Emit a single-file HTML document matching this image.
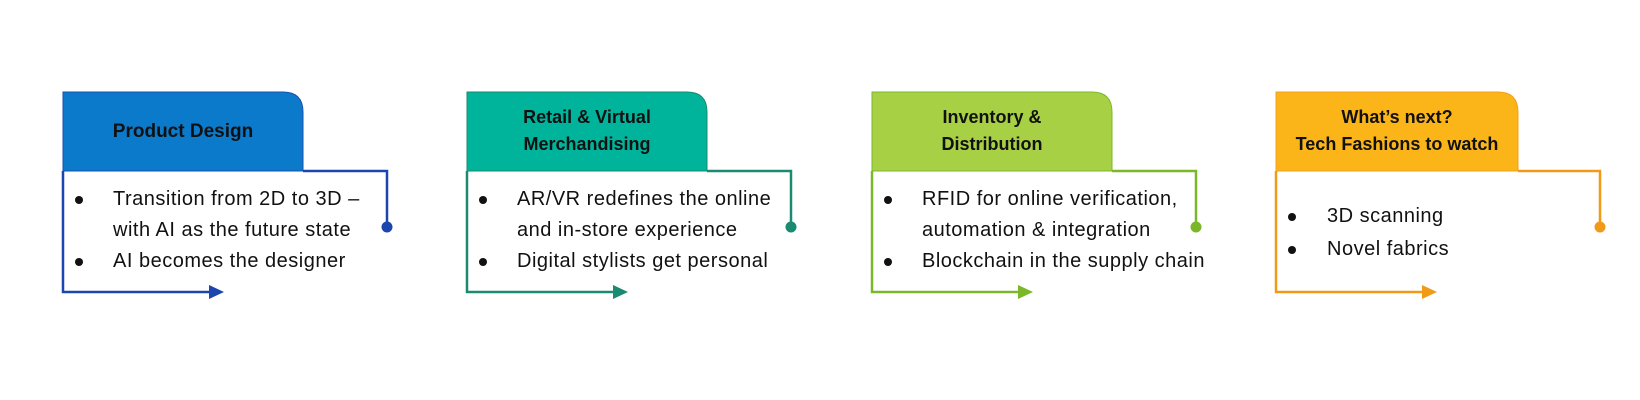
<!DOCTYPE html>
<html><head><meta charset="utf-8"><style>
body{margin:0;width:1640px;height:400px;background:#fff;overflow:hidden;font-family:"Liberation Sans",sans-serif;}
.t{position:absolute;font-size:20px;letter-spacing:0.5px;color:#111;white-space:nowrap}
.h{position:absolute;font-weight:bold;font-size:18px;color:#111;text-align:center;line-height:27px}
</style></head><body>
<svg width="1640" height="400" style="position:absolute;left:0;top:0">
<g transform="translate(63,0)">
<path d="M0 92 H220 Q240 92 240 112 V171 H0 Z" fill="#0b7acb" stroke="#1b4fae" stroke-width="1"/>
<path d="M0 171 V292 H150" fill="none" stroke="#1b46ad" stroke-width="2.5"/>
<polygon points="146,285 161,292 146,299" fill="#1b46ad"/>
<path d="M240 171 H324 V227" fill="none" stroke="#1b46ad" stroke-width="2.5"/>
<circle cx="324" cy="227" r="5.5" fill="#1b46ad"/>
</g>
<g transform="translate(467,0)">
<path d="M0 92 H220 Q240 92 240 112 V171 H0 Z" fill="#00b39b" stroke="#1a8a70" stroke-width="1"/>
<path d="M0 171 V292 H150" fill="none" stroke="#1a8a70" stroke-width="2.5"/>
<polygon points="146,285 161,292 146,299" fill="#1a8a70"/>
<path d="M240 171 H324 V227" fill="none" stroke="#1a8a70" stroke-width="2.5"/>
<circle cx="324" cy="227" r="5.5" fill="#1a8a70"/>
</g>
<g transform="translate(872,0)">
<path d="M0 92 H220 Q240 92 240 112 V171 H0 Z" fill="#a8d045" stroke="#7ab82a" stroke-width="1"/>
<path d="M0 171 V292 H150" fill="none" stroke="#7ab82a" stroke-width="2.5"/>
<polygon points="146,285 161,292 146,299" fill="#7ab82a"/>
<path d="M240 171 H324 V227" fill="none" stroke="#7ab82a" stroke-width="2.5"/>
<circle cx="324" cy="227" r="5.5" fill="#7ab82a"/>
</g>
<g transform="translate(1276,0)">
<path d="M0 92 H222 Q242 92 242 112 V171 H0 Z" fill="#fbb519" stroke="#f0a020" stroke-width="1"/>
<path d="M0 171 V292 H150" fill="none" stroke="#f09a18" stroke-width="2.5"/>
<polygon points="146,285 161,292 146,299" fill="#f09a18"/>
<path d="M242 171 H324 V227" fill="none" stroke="#f09a18" stroke-width="2.5"/>
<circle cx="324" cy="227" r="5.5" fill="#f09a18"/>
</g>
<g fill="#111">
<circle cx="79" cy="200" r="4"/><circle cx="79" cy="262" r="4"/>
<circle cx="483" cy="200" r="4"/><circle cx="483" cy="262" r="4"/>
<circle cx="888" cy="200" r="4"/><circle cx="888" cy="262" r="4"/>
<circle cx="1292" cy="217" r="4"/><circle cx="1292" cy="250" r="4"/>
</g>
</svg>
<div class="h" style="left:63px;top:118px;width:240px;font-size:19px">Product Design</div>
<div class="h" style="left:467px;top:104px;width:240px">Retail &amp; Virtual<br>Merchandising</div>
<div class="h" style="left:872px;top:104px;width:240px">Inventory &amp;<br>Distribution</div>
<div class="h" style="left:1276px;top:104px;width:242px">What’s next?<br>Tech Fashions to watch</div>

<div class="t" style="left:113px;top:188px">Transition from 2D to 3D –</div>
<div class="t" style="left:113px;top:219px">with AI as the future state</div>
<div class="t" style="left:113px;top:250px">AI becomes the designer</div>

<div class="t" style="left:517px;top:188px">AR/VR redefines the online</div>
<div class="t" style="left:517px;top:219px">and in-store experience</div>
<div class="t" style="left:517px;top:250px">Digital stylists get personal</div>

<div class="t" style="left:922px;top:188px">RFID for online verification,</div>
<div class="t" style="left:922px;top:219px">automation &amp; integration</div>
<div class="t" style="left:922px;top:250px">Blockchain in the supply chain</div>

<div class="t" style="left:1327px;top:205px">3D scanning</div>
<div class="t" style="left:1327px;top:238px">Novel fabrics</div>
</body></html>
